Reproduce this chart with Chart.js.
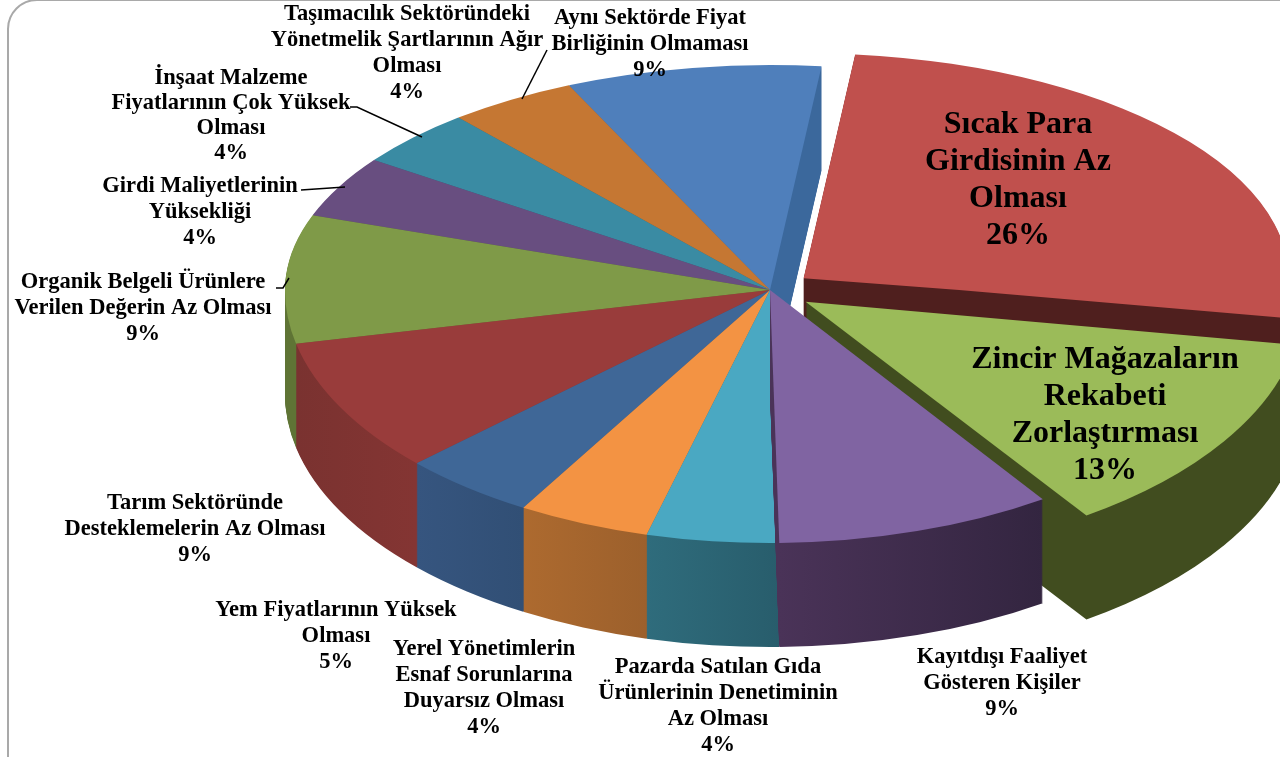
<!DOCTYPE html>
<html>
<head>
<meta charset="utf-8">
<script src="https://cdn.jsdelivr.net/npm/chart.js@4/dist/chart.umd.min.js"></script>
<style>
  html, body { margin: 0; padding: 0; background: #fff; overflow: hidden; }
  #wrap { position: relative; width: 1280px; height: 757px; overflow: hidden; }
  #frame { position: absolute; left: 7px; top: -1px; width: 1400px; height: 900px; border: 2px solid #a9a9a9; border-radius: 30px; }
  #pieChart { position: absolute; left: 0; top: 0; }
</style>
</head>
<body>
<div id="wrap">
  <div id="frame"></div>
  <canvas id="pieChart" width="1280" height="757"></canvas>
</div>
<script>
// Chart values, clockwise from the exploded red slice.
// Printed labels are rounded, the shares are estimated from the slice angles.
const categories = [
  'Sıcak Para Girdisinin Az Olması',
  'Zincir Mağazaların Rekabeti Zorlaştırması',
  'Kayıtdışı Faaliyet Gösteren Kişiler',
  'Pazarda Satılan Gıda Ürünlerinin Denetiminin Az Olması',
  'Yerel Yönetimlerin Esnaf Sorunlarına Duyarsız Olması',
  'Yem Fiyatlarının Yüksek Olması',
  'Tarım Sektöründe Desteklemelerin Az Olması',
  'Organik Belgeli Ürünlere Verilen Değerin Az Olması',
  'Girdi Maliyetlerinin Yüksekliği',
  'İnşaat Malzeme Fiyatlarının Çok Yüksek Olması',
  'Taşımacılık Sektöründeki Yönetmelik Şartlarının Ağır Olması',
  'Aynı Sektörde Fiyat Birliğinin Olmaması'
];
const values = [25.9, 12.9, 9.2, 4.4, 4.4, 4.5, 8.6, 8.8, 4.4, 4.1, 4.3, 8.5];
const topColors = ['#c0504d', '#9bbb59', '#8064a2', '#4aa8c2', '#f39343', '#3f6797', '#993c3b', '#7f9a48', '#684e80', '#3a8ba3', '#c57733', '#4f7fbb'];
const wallLeft = ['#4f1f1e', '#414d1f', '#4a3358', '#2f6c7c', '#ad6a2f', '#36557f', '#7a3230', '#5f7435', '#4d3a60', '#2b687a', '#945926', '#3b689c'];
const wallRight = ['#4f1f1e', '#414d1f', '#332540', '#285d6c', '#9c602c', '#314f75', '#843533', '#5f7435', '#4d3a60', '#2b687a', '#945926', '#3b689c'];
const explode = [86, 86, 0, 0, 0, 0, 0, 0, 0, 0, 0, 0];

// Back to front, so nearer slices cover the walls of the ones behind
const paintOrder = [11, 10, 9, 8, 7, 6, 5, 4, 3, 0, 1, 2];

// Text placed around the pie: wrapped lines, centre x, first baseline y
const labelLines = [
  ['Sıcak Para', 'Girdisinin Az', 'Olması'],
  ['Zincir Mağazaların', 'Rekabeti', 'Zorlaştırması'],
  ['Kayıtdışı Faaliyet', 'Gösteren Kişiler'],
  ['Pazarda Satılan Gıda', 'Ürünlerinin Denetiminin', 'Az Olması'],
  ['Yerel Yönetimlerin', 'Esnaf Sorunlarına', 'Duyarsız Olması'],
  ['Yem Fiyatlarının Yüksek', 'Olması'],
  ['Tarım Sektöründe', 'Desteklemelerin Az Olması'],
  ['Organik Belgeli Ürünlere', 'Verilen Değerin Az Olması'],
  ['Girdi Maliyetlerinin', 'Yüksekliği'],
  ['İnşaat Malzeme', 'Fiyatlarının Çok Yüksek', 'Olması'],
  ['Taşımacılık Sektöründeki', 'Yönetmelik Şartlarının Ağır', 'Olması'],
  ['Aynı Sektörde Fiyat', 'Birliğinin Olmaması']
];
const labelX = [1018, 1105, 1002, 718, 484, 336, 195, 143, 200, 231, 407, 650];
const labelY = [133, 368, 663, 673, 655, 616, 509, 288, 192, 84, 20, 24];
const labelSize = [32, 32, 22.5, 22.5, 22.5, 22.5, 22.5, 22.5, 22.5, 22.5, 22.5, 22.5];
const labelStep = [37, 37, 26, 26, 26, 26, 26, 26, 26, 25, 26, 26];
const leaderLines = [
  [[547, 50], [522, 99]],
  [[350, 107], [357, 107], [422, 137]],
  [[301, 190], [345, 187]],
  [[276, 288], [283, 288], [289, 278]]
];

// Screen size of the tilted pie, measured from the pivot
const RX = 485;
const RY_BACK = 225;
const RY_FRONT = 253;
const DEPTH = 104;

function paintSlice(ctx, chart, arc, color, drop) {
  const W = chart.width, H = chart.height;
  const R = arc.outerRadius;
  const saved = arc.options;
  arc.options = Object.assign({}, saved, { backgroundColor: color });
  // The back half of the ellipse is a little flatter than the front
  [[0, arc.y + drop, RY_BACK], [arc.y + drop, H, RY_FRONT]].forEach(([y0, y1, ry]) => {
    ctx.save();
    ctx.beginPath();
    ctx.rect(0, y0, W, y1 - y0);
    ctx.clip();
    ctx.translate(arc.x, arc.y + drop);
    ctx.scale(RX / R, ry / R);
    ctx.translate(-arc.x, -arc.y);
    arc.draw(ctx);
    ctx.restore();
  });
  arc.options = saved;
}

const tiltedPie = {
  id: 'tiltedPie',
  beforeDatasetsDraw(chart) {
    const ctx = chart.ctx;
    const arcs = chart.getDatasetMeta(0).data;
    paintOrder.forEach(i => {
      const arc = arcs[i];
      // wall gradient runs across the slice in the arc's own coordinates
      const xa = arc.x + arc.outerRadius * Math.cos(arc.startAngle);
      const xb = arc.x + arc.outerRadius * Math.cos(arc.endAngle);
      const grad = ctx.createLinearGradient(Math.min(xa, xb), 0, Math.max(xa, xb), 0);
      grad.addColorStop(0, wallLeft[i]);
      grad.addColorStop(1, wallRight[i]);
      for (let d = DEPTH; d > 0; d--) {
        paintSlice(ctx, chart, arc, grad, d);
      }
      paintSlice(ctx, chart, arc, topColors[i], 0);
    });
    return false;
  },
  afterDraw(chart) {
    const ctx = chart.ctx;
    ctx.save();
    ctx.strokeStyle = '#000';
    ctx.lineWidth = 1.5;
    leaderLines.forEach(pts => {
      ctx.beginPath();
      pts.forEach((p, k) => k ? ctx.lineTo(p[0], p[1]) : ctx.moveTo(p[0], p[1]));
      ctx.stroke();
    });
    ctx.fillStyle = '#000';
    ctx.textAlign = 'center';
    ctx.textBaseline = 'alphabetic';
    labelLines.forEach((lines, i) => {
      ctx.font = 'bold ' + labelSize[i] + 'px "Liberation Serif"';
      const rows = lines.concat(Math.round(values[i]) + '%');
      rows.forEach((t, k) => ctx.fillText(t, labelX[i], labelY[i] + k * labelStep[i]));
    });
    ctx.restore();
  }
};

new Chart(document.getElementById('pieChart'), {
  type: 'pie',
  data: {
    labels: categories,
    datasets: [{
      data: values,
      backgroundColor: topColors,
      borderWidth: 0,
      offset: explode
    }]
  },
  options: {
    responsive: false,
    animation: false,
    rotation: 6.1,
    layout: { padding: { left: 260, top: 0, right: 0, bottom: 177 } },
    plugins: { legend: { display: false }, tooltip: { enabled: false } }
  },
  plugins: [tiltedPie]
});
</script>
</body>
</html>
